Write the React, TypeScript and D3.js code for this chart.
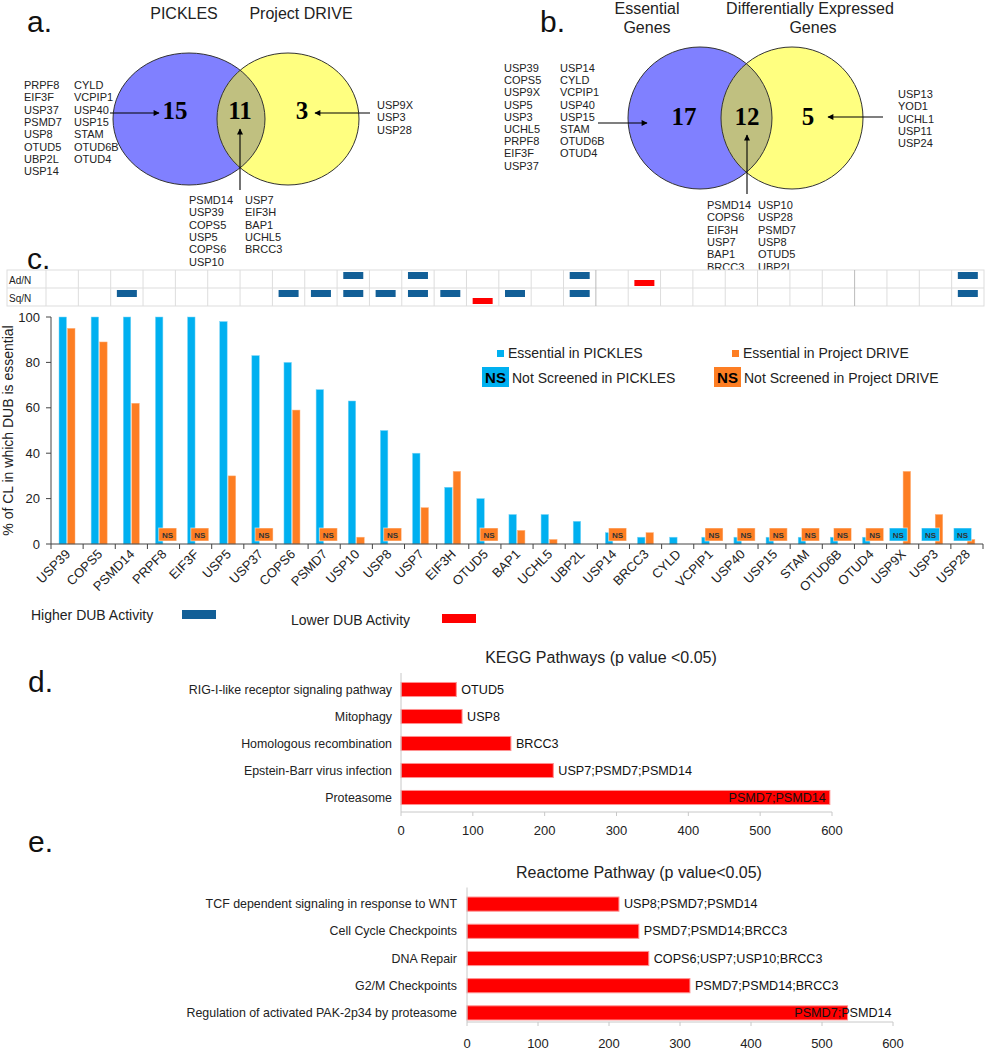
import React from 'react';
import * as d3 from 'd3';

const FONT = '"Liberation Sans", Arial, sans-serif';
const SERIF = '"Liberation Serif", "Times New Roman", serif';

// panel a: PICKLES vs Project DRIVE
const picklesOnlyA1 = ['PRPF8', 'EIF3F', 'USP37', 'PSMD7', 'USP8', 'OTUD5', 'UBP2L', 'USP14'];
const picklesOnlyA2 = ['CYLD', 'VCPIP1', 'USP40', 'USP15', 'STAM', 'OTUD6B', 'OTUD4'];
const driveOnlyA = ['USP9X', 'USP3', 'USP28'];
const bothA1 = ['PSMD14', 'USP39', 'COPS5', 'USP5', 'COPS6', 'USP10'];
const bothA2 = ['USP7', 'EIF3H', 'BAP1', 'UCHL5', 'BRCC3'];
const countsA = [15, 11, 3];

// panel b: essential vs differentially expressed
const essOnlyB1 = ['USP39', 'COPS5', 'USP9X', 'USP5', 'USP3', 'UCHL5', 'PRPF8', 'EIF3F', 'USP37'];
const essOnlyB2 = ['USP14', 'CYLD', 'VCPIP1', 'USP40', 'USP15', 'STAM', 'OTUD6B', 'OTUD4'];
const deOnlyB = ['USP13', 'YOD1', 'UCHL1', 'USP11', 'USP24'];
const bothB1 = ['PSMD14', 'COPS6', 'EIF3H', 'USP7', 'BAP1', 'BRCC3'];
const bothB2 = ['USP10', 'USP28', 'PSMD7', 'USP8', 'OTUD5', 'UBP2L'];
const countsB = [17, 12, 5];

// panel c
const dubs = ['USP39', 'COPS5', 'PSMD14', 'PRPF8', 'EIF3F', 'USP5', 'USP37', 'COPS6', 'PSMD7', 'USP10',
  'USP8', 'USP7', 'EIF3H', 'OTUD5', 'BAP1', 'UCHL5', 'UBP2L', 'USP14', 'BRCC3', 'CYLD', 'VCPIP1',
  'USP40', 'USP15', 'STAM', 'OTUD6B', 'OTUD4', 'USP9X', 'USP3', 'USP28'];
// null = not screened
const essPickles = [100, 100, 100, 100, 100, 98, 83, 80, 68, 63, 50, 40, 25, 20, 13, 13, 10, 5, 3, 3, 3,
  3, 3, 3, 3, 3, null, null, null];
const essDrive = [95, 89, 62, null, null, 30, null, 59, null, 3, null, 16, 32, null, 6, 2, 0, null, 5, 0, null,
  null, null, null, null, null, 32, 13, 2];
const adHigh = ['USP10', 'USP7', 'UBP2L', 'USP28'];
const adLow = ['BRCC3'];
const sqHigh = ['PSMD14', 'COPS6', 'PSMD7', 'USP10', 'USP8', 'USP7', 'EIF3H', 'BAP1', 'UBP2L', 'USP28'];
const sqLow = ['OTUD5'];
const yTicksC = [0, 20, 40, 60, 80, 100];

// panel d
const keggTerms = ['RIG-I-like receptor signaling pathway', 'Mitophagy', 'Homologous recombination',
  'Epstein-Barr virus infection', 'Proteasome'];
const keggValues = [77, 85, 153, 212, 597];
const keggGenes = ['OTUD5', 'USP8', 'BRCC3', 'USP7;PSMD7;PSMD14', 'PSMD7;PSMD14'];

// panel e
const reactTerms = ['TCF dependent signaling in response to WNT', 'Cell Cycle Checkpoints', 'DNA Repair',
  'G2/M Checkpoints', 'Regulation of activated PAK-2p34 by proteasome'];
const reactValues = [214, 242, 256, 314, 536];
const reactGenes = ['USP8;PSMD7;PSMD14', 'PSMD7;PSMD14;BRCC3', 'COPS6;USP7;USP10;BRCC3',
  'PSMD7;PSMD14;BRCC3', 'PSMD7;PSMD14'];
const pathTicks = [0, 100, 200, 300, 400, 500, 600];

const BLUE = '#00b0f0';
const ORANGE = '#fd7e23';
const DARKBLUE = '#125f97';

function Genes({ list, x, y, step = 12.3 }) {
  return (
    <g>
      {list.map((g, i) => (
        <text key={g} x={x} y={y + i * step} fontSize={11} fill="#222">{g}</text>
      ))}
    </g>
  );
}

function Venn({ id, lx, rx, cy, lrx, rrx, ry, counts, countY }) {
  return (
    <g>
      <defs>
        <clipPath id={id}>
          <ellipse cx={rx} cy={cy} rx={rrx} ry={ry} />
        </clipPath>
      </defs>
      <ellipse cx={lx} cy={cy} rx={lrx} ry={ry} fill="#8080ff" />
      <ellipse cx={rx} cy={cy} rx={rrx} ry={ry} fill="#ffff80" />
      <ellipse cx={lx} cy={cy} rx={lrx} ry={ry} fill="#c0c080" clipPath={`url(#${id})`} />
      <ellipse cx={lx} cy={cy} rx={lrx} ry={ry} fill="none" stroke="#333" strokeWidth={1} />
      <ellipse cx={rx} cy={cy} rx={rrx} ry={ry} fill="none" stroke="#333" strokeWidth={1} />
      {counts.map((c, i) => (
        <text key={i} x={c.x} y={countY} textAnchor="middle" fontFamily={SERIF} fontWeight="bold"
          fontSize={25} fill="#000">{c.v}</text>
      ))}
    </g>
  );
}

function Arrow({ x1, y1, x2, y2 }) {
  return <line x1={x1} y1={y1} x2={x2} y2={y2} stroke="#000" strokeWidth={1.1} markerEnd="url(#arrowHead)" />;
}

function PanelC() {
  const x = d3.scaleBand().domain(dubs).range([51, 983]);
  const hx = d3.scaleBand().domain(dubs).range([46, 984]);
  const sub = d3.scaleBand().domain(['p', 'd']).range([8, 24]).paddingInner(0.12);
  const y = d3.scaleLinear().domain([0, 100]).range([544, 317]);
  const bw = sub.bandwidth();
  const rows = [
    { label: 'Ad/N', top: 270, high: adHigh, low: adLow },
    { label: 'Sq/N', top: 288, high: sqHigh, low: sqLow },
  ];
  const NS = (cx, color) => (
    <g>
      <rect x={cx - 9} y={y(0) - 16} width={18} height={13} fill={color} stroke="#fff" strokeOpacity={0.5} />
      <text x={cx} y={y(0) - 6.5} textAnchor="middle" fontSize={8} fontWeight="bold" fill="#333">NS</text>
    </g>
  );
  return (
    <g>
      {/* activity strip */}
      <g>
        <rect x={7} y={270} width={977} height={36} fill="#fff" stroke="#ddd" />
        <line x1={7} x2={984} y1={288} y2={288} stroke="#ddd" />
        {dubs.map((d, i) => (
          <line key={d} x1={hx(d)} x2={hx(d)} y1={270} y2={306}
            stroke={i === 17 || i === 25 ? '#bbb' : '#ddd'} />
        ))}
        {rows.map(r => (
          <g key={r.label}>
            <text x={9} y={r.top + 14} fontSize={10} fill="#222">{r.label}</text>
            {r.high.map(d => (
              <rect key={d} x={hx(d) + hx.bandwidth() / 2 - 10} y={r.top + 2} width={20} height={7} fill={DARKBLUE} />
            ))}
            {r.low.map(d => (
              <rect key={d} x={hx(d) + hx.bandwidth() / 2 - 10} y={r.top + 10} width={20} height={6} fill="#ff0000" />
            ))}
          </g>
        ))}
      </g>
      {/* bars */}
      {dubs.map((d, i) => {
        const p = essPickles[i];
        const q = essDrive[i];
        const x0 = x(d);
        return (
          <g key={d}>
            {p !== null && p > 0 && (
              <rect x={x0 + sub('p')} y={y(p)} width={bw} height={y(0) - y(p)} fill={BLUE} stroke="#7fd6f7" strokeWidth={0.5} />
            )}
            {q !== null && q > 0 && (
              <rect x={x0 + sub('d')} y={y(q)} width={bw} height={y(0) - y(q)} fill={ORANGE} stroke="#ffb27a" strokeWidth={0.5} />
            )}
            {p === null && NS(x0 + sub('p') + bw / 2, BLUE)}
            {q === null && NS(x0 + sub('d') + bw / 2, ORANGE)}
          </g>
        );
      })}
      {/* y axis */}
      <line x1={51} x2={51} y1={y(100)} y2={y(0)} stroke="#444" />
      {yTicksC.map(t => (
        <g key={t}>
          <line x1={46} x2={51} y1={y(t)} y2={y(t)} stroke="#444" />
          <text x={40} y={y(t) + 4.5} textAnchor="end" fontSize={13} fill="#222">{t}</text>
        </g>
      ))}
      <text transform={`translate(13,${(y(0) + y(100)) / 2}) rotate(-90)`} textAnchor="middle" fontSize={14} fill="#222">
        % of CL in which DUB is essential
      </text>
      {/* x axis */}
      <line x1={51} x2={983} y1={y(0)} y2={y(0)} stroke="#444" />
      {[...dubs.map(d => x(d)), 983].map((t, i) => (
        <line key={i} x1={t} x2={t} y1={y(0)} y2={y(0) + 5} stroke="#444" />
      ))}
      {dubs.map(d => (
        <text key={d} transform={`translate(${x(d) + x.bandwidth() / 2 + 4},${y(0) + 11}) rotate(-45)`}
          textAnchor="end" fontSize={13} fill="#222">{d}</text>
      ))}
      {/* legend */}
      <rect x={497} y={350} width={7} height={7} fill={BLUE} />
      <text x={508} y={358} fontSize={14} fill="#222">Essential in PICKLES</text>
      <rect x={732} y={350} width={7} height={7} fill={ORANGE} />
      <text x={743} y={358} fontSize={14} fill="#222">Essential in Project DRIVE</text>
      <rect x={482} y={367} width={27} height={20} fill={BLUE} />
      <text x={495.5} y={383} textAnchor="middle" fontSize={15} fontWeight="bold" fill="#000">NS</text>
      <text x={512} y={383} fontSize={14} fill="#222">Not Screened in PICKLES</text>
      <rect x={714} y={367} width={27} height={20} fill={ORANGE} />
      <text x={727.5} y={383} textAnchor="middle" fontSize={15} fontWeight="bold" fill="#000">NS</text>
      <text x={744} y={383} fontSize={14} fill="#222">Not Screened in Project DRIVE</text>
      <text x={31} y={620} fontSize={14} fill="#222">Higher DUB Activity</text>
      <rect x={182} y={610} width={34} height={9} fill={DARKBLUE} />
      <text x={291} y={625} fontSize={14} fill="#222">Lower DUB Activity</text>
      <rect x={442} y={614} width={34} height={9} fill="#ff0000" />
    </g>
  );
}

function Pathway({ terms, values, genes, title, titleX, titleY, x0, x1, yTop, yBot, axisY, tickY, labelX, lastDx }) {
  const x = d3.scaleLinear().domain([0, 600]).range([x0, x1]);
  const y = d3.scaleBand().domain(terms).range([yTop, yBot]).paddingInner(0.48).paddingOuter(0.24);
  const maxV = d3.max(values);
  return (
    <g>
      <text x={titleX} y={titleY} textAnchor="middle" fontSize={16} fill="#222">{title}</text>
      {terms.map((t, i) => {
        const v = values[i];
        const cy = y(t) + y.bandwidth() / 2;
        const last = v === maxV;
        return (
          <g key={t}>
            <text x={labelX} y={cy + 4} textAnchor="end" fontSize={12.4} fill="#222">{t}</text>
            <rect x={x(0)} y={y(t)} width={x(v) - x(0)} height={y.bandwidth()} fill="#ff0000" stroke="#ff9090" strokeWidth={1} />
            <text x={last ? x(v) + lastDx : x(v) + 5} y={cy + 4} textAnchor={last ? 'end' : 'start'} fontSize={12.6} fill="#111">
              {genes[i]}
            </text>
          </g>
        );
      })}
      <line x1={x0} x2={x0} y1={yTop - 3} y2={axisY} stroke="#c8c8c8" />
      <line x1={x0} x2={x1} y1={axisY} y2={axisY} stroke="#c8c8c8" />
      {pathTicks.map(t => (
        <g key={t}>
          <line x1={x(t)} x2={x(t)} y1={axisY} y2={axisY + 4} stroke="#c8c8c8" />
          <text x={x(t)} y={tickY} textAnchor="middle" fontSize={13} fill="#222">{t}</text>
        </g>
      ))}
    </g>
  );
}

export default function App() {
  return (
    <svg width={986} height={1050} style={{ position: 'absolute', left: 0, top: 0, background: '#fff' }}
      fontFamily={FONT}>
      <defs>
        <marker id="arrowHead" viewBox="0 0 10 10" refX={9} refY={5} markerWidth={8} markerHeight={6}
          markerUnits="userSpaceOnUse" orient="auto">
          <path d="M0,0 L10,5 L0,10 z" fill="#000" />
        </marker>
      </defs>
      <rect width={986} height={1050} fill="#fff" />

      {/* panel a */}
      <text x={27} y={32} fontSize={30} fill="#111">a.</text>
      <text x={184} y={19} textAnchor="middle" fontSize={16} fill="#222">PICKLES</text>
      <text x={301} y={19} textAnchor="middle" fontSize={16} fill="#222">Project DRIVE</text>
      <Venn id="clipA" lx={189} rx={288} cy={119} lrx={76} rrx={71} ry={66} countY={119}
        counts={[{ x: 175, v: countsA[0] }, { x: 240, v: countsA[1] }, { x: 302, v: countsA[2] }]} />
      <Genes list={picklesOnlyA1} x={24} y={89} />
      <Genes list={picklesOnlyA2} x={74} y={89} />
      <Genes list={driveOnlyA} x={377} y={109} />
      <Genes list={bothA1} x={189} y={204} />
      <Genes list={bothA2} x={245} y={204} />
      <Arrow x1={110} y1={113} x2={159} y2={113} />
      <Arrow x1={370} y1={113} x2={315} y2={113} />
      <Arrow x1={240} y1={190} x2={240} y2={129} />

      {/* panel b */}
      <text x={540} y={32} fontSize={30} fill="#111">b.</text>
      <text x={647} y={14} textAnchor="middle" fontSize={16} fill="#222">Essential</text>
      <text x={647} y={33} textAnchor="middle" fontSize={16} fill="#222">Genes</text>
      <text x={810} y={14} textAnchor="middle" fontSize={16} fill="#222">Differentially Expressed</text>
      <text x={813} y={33} textAnchor="middle" fontSize={16} fill="#222">Genes</text>
      <Venn id="clipB" lx={700} rx={792} cy={118} lrx={72} rrx={71} ry={71} countY={125}
        counts={[{ x: 684, v: countsB[0] }, { x: 747, v: countsB[1] }, { x: 808, v: countsB[2] }]} />
      <Genes list={essOnlyB1} x={504} y={72} step={12.2} />
      <Genes list={essOnlyB2} x={560} y={72} step={12.2} />
      <Genes list={deOnlyB} x={898} y={98} />
      <Genes list={bothB1} x={707} y={209} />
      <Genes list={bothB2} x={758} y={209} />
      <Arrow x1={598} y1={123} x2={647} y2={123} />
      <Arrow x1={883} y1={117} x2={828} y2={117} />
      <Arrow x1={747} y1={194} x2={747} y2={135} />

      {/* panel c */}
      <text x={27} y={269} fontSize={30} fill="#111">c.</text>
      <PanelC />

      {/* panel d */}
      <text x={28} y={692} fontSize={30} fill="#111">d.</text>
      <Pathway terms={keggTerms} values={keggValues} genes={keggGenes}
        title="KEGG Pathways  (p value <0.05)" titleX={601} titleY={663}
        x0={401} x1={832} yTop={676} yBot={811} axisY={812} tickY={835} labelX={392} lastDx={-4} />

      {/* panel e */}
      <text x={28} y={852} fontSize={30} fill="#111">e.</text>
      <Pathway terms={reactTerms} values={reactValues} genes={reactGenes}
        title="Reactome Pathway (p value<0.05)" titleX={639} titleY={878}
        x0={467} x1={893} yTop={890.5} yBot={1026.5} axisY={1022} tickY={1048} labelX={457} lastDx={44} />
    </svg>
  );
}
